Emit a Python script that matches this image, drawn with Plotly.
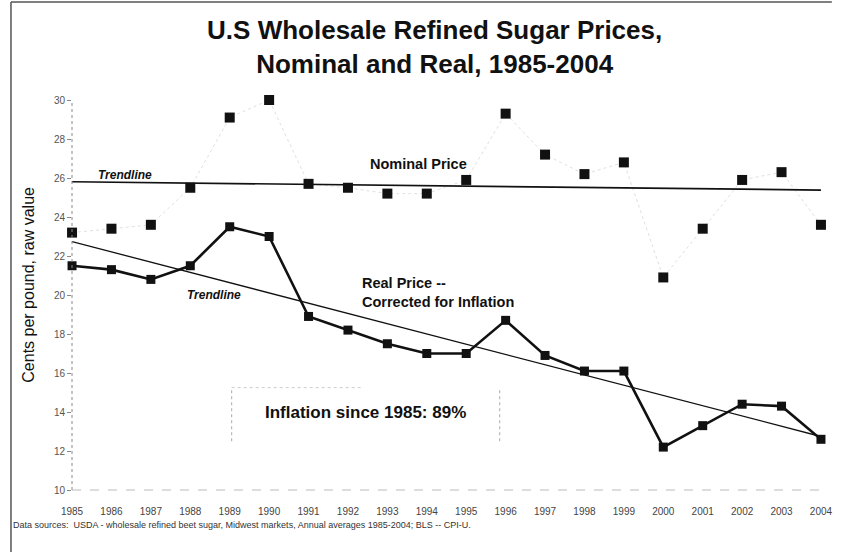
import numpy as np
import plotly.graph_objects as go

years = list(range(1985, 2005))
year_labels = [str(y) for y in years]
nominal_price = [23.2, 23.4, 23.6, 25.5, 29.1, 30.0, 25.7, 25.5, 25.2, 25.2,
                 25.9, 29.3, 27.2, 26.2, 26.8, 20.9, 23.4, 25.9, 26.3, 23.6]
real_price = [21.5, 21.3, 20.8, 21.5, 23.5, 23.0, 18.9, 18.2, 17.5, 17.0,
              17.0, 18.7, 16.9, 16.1, 16.1, 12.2, 13.3, 14.4, 14.3, 12.6]
y_ticks = [10, 12, 14, 16, 18, 20, 22, 24, 26, 28, 30]

W, H = 844, 554
ML, MR, MT, MB = 72, 11, 100, 64
FONT = "Arial, Liberation Sans, sans-serif"

x = np.array(years, dtype=float)
nom_fit = np.polyval(np.polyfit(x, nominal_price, 1), x)
real_fit = np.polyval(np.polyfit(x, real_price, 1), x)

fig = go.Figure()

# faint dotted connector for nominal price
fig.add_trace(go.Scatter(x=years, y=nominal_price, mode="lines",
                         line=dict(color="#e0e0e0", width=1, dash="dot"),
                         hoverinfo="skip", showlegend=False, cliponaxis=False))
# trendlines
fig.add_trace(go.Scatter(x=years, y=nom_fit, mode="lines",
                         line=dict(color="#111", width=1.7), showlegend=False,
                         cliponaxis=False))
fig.add_trace(go.Scatter(x=years, y=real_fit, mode="lines",
                         line=dict(color="#111", width=1.3), showlegend=False,
                         cliponaxis=False))
# nominal markers
fig.add_trace(go.Scatter(x=years, y=nominal_price, mode="markers",
                         marker=dict(symbol="square", size=10, color="#111"),
                         cliponaxis=False, showlegend=False, name="Nominal Price"))
# real price line
fig.add_trace(go.Scatter(x=years, y=real_price, mode="lines+markers",
                         line=dict(color="#111", width=2.6),
                         marker=dict(symbol="square", size=9, color="#111"),
                         cliponaxis=False, showlegend=False, name="Real Price"))

def px_x(p):
    return (p - ML) / (W - ML - MR)

def px_y(p):
    return 1 - (p - MT) / (H - MT - MB)

shapes = [
    # y axis dotted line
    dict(type="line", xref="paper", yref="paper", x0=0, x1=0, y0=0, y1=1,
         line=dict(color="#888", width=1, dash="dot")),
    # x axis dashed faint line
    dict(type="line", xref="paper", yref="paper", x0=0, x1=1, y0=0, y1=0,
         line=dict(color="#bbb", width=1, dash="dash")),
    # inflation box (dotted)
    dict(type="line", xref="x", yref="y", x0=1989.05, x1=1989.05, y0=12.5, y1=15.25,
         line=dict(color="#aaa", width=1, dash="dot")),
    dict(type="line", xref="x", yref="y", x0=1995.85, x1=1995.85, y0=12.5, y1=15.25,
         line=dict(color="#aaa", width=1, dash="dot")),
    dict(type="line", xref="x", yref="y", x0=1989.05, x1=1992.4, y0=15.25, y1=15.25,
         line=dict(color="#ccc", width=1, dash="dot")),
    # outer frame
    dict(type="line", xref="paper", yref="paper", x0=px_x(10), x1=px_x(10),
         y0=px_y(552), y1=px_y(2), line=dict(color="#555", width=1.5)),
    dict(type="line", xref="paper", yref="paper", x0=px_x(10), x1=px_x(844),
         y0=px_y(2), y1=px_y(2), line=dict(color="#555", width=1.5)),
]

annotations = [
    dict(x=1986.35, y=26.15, xref="x", yref="y", text="<b><i>Trendline</i></b>",
         showarrow=False, font=dict(family=FONT, size=12, color="#111")),
    dict(x=1993.8, y=26.7, xref="x", yref="y", text="<b>Nominal Price</b>",
         showarrow=False, font=dict(family=FONT, size=14.5, color="#111")),
    dict(x=1988.6, y=20.0, xref="x", yref="y", text="<b><i>Trendline</i></b>",
         showarrow=False, font=dict(family=FONT, size=12, color="#111")),
    dict(x=1992.3, y=20.13, xref="x", yref="y", xanchor="left",
         text="<b>Real Price --<br>Corrected for Inflation</b>", align="left",
         showarrow=False, font=dict(family=FONT, size=14.5, color="#111")),
    dict(x=1992.45, y=14.0, xref="x", yref="y", text="<b>Inflation since 1985: 89%</b>",
         showarrow=False, font=dict(family=FONT, size=17, color="#111")),
    dict(x=px_x(27), y=px_y(285), xref="paper", yref="paper", textangle=-90,
         xanchor="center", yanchor="middle",
         text="Cents per pound, raw value", showarrow=False,
         font=dict(family=FONT, size=16, color="#111")),
    dict(x=px_x(10), y=px_y(532), xref="paper", yref="paper", xanchor="left",
         text="Data sources:  USDA - wholesale refined beet sugar, Midwest markets, Annual averages 1985-2004; BLS -- CPI-U.",
         showarrow=False, font=dict(family=FONT, size=9, color="#333")),
]

fig.update_layout(
    width=W, height=H, autosize=False,
    margin=dict(l=ML, r=MR, t=MT, b=MB),
    paper_bgcolor="white", plot_bgcolor="white",
    title=dict(text="<b>U.S Wholesale Refined Sugar Prices,<br>Nominal and Real, 1985-2004</b>",
               x=0.515, xanchor="center", y=0.93, yanchor="top",
               font=dict(family=FONT, size=26, color="#111")),
    font=dict(family=FONT),
    xaxis=dict(range=[1984.999, 2004.001], tickmode="array", tickvals=years,
               ticktext=year_labels, ticklabeloverflow="allow",
               showgrid=False, zeroline=False, showline=False,
               tickfont=dict(size=10, color="#444"), ticks="outside", ticklen=12,
               tickcolor="rgba(0,0,0,0)"),
    yaxis=dict(range=[10, 30], tickmode="array", tickvals=y_ticks,
               showgrid=False, zeroline=False, showline=False,
               ticks="outside", ticklen=4, tickcolor="#888",
               tickfont=dict(size=10, color="#555")),
    shapes=shapes, annotations=annotations,
    showlegend=False,
)

fig.write_html(
    "out.html",
    config={"displayModeBar": False, "responsive": False},
    default_width="844px", default_height="554px",
    post_script=("document.documentElement.style.margin='0';"
                 "document.documentElement.style.overflow='hidden';"
                 "document.body.style.margin='0';"
                 "document.body.style.overflow='hidden';"),
)
